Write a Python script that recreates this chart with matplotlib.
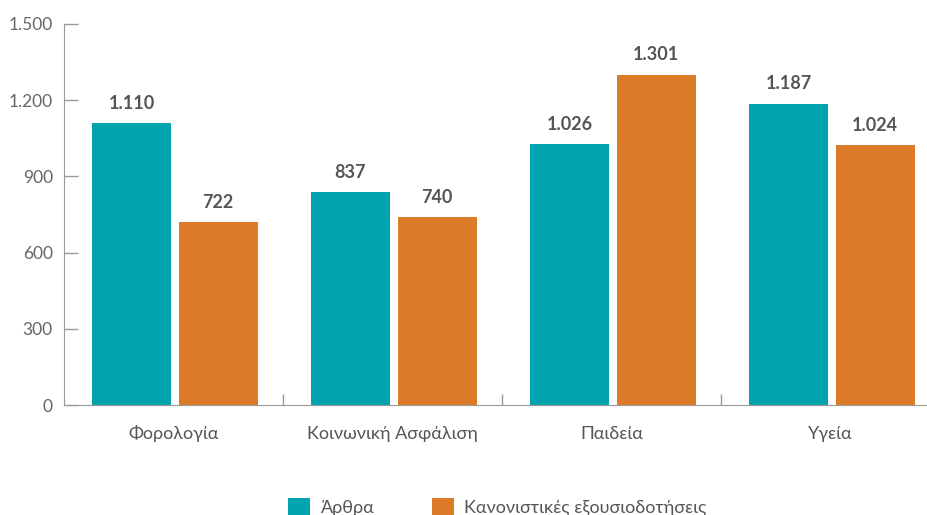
import matplotlib
matplotlib.use("Agg")
import matplotlib.pyplot as plt
from matplotlib.patches import Patch
import numpy as np

categories = ["Φορολογία", "Κοινωνική Ασφάλιση", "Παιδεία", "Υγεία"]
series_names = ["Άρθρα", "Κανονιστικές εξουσιοδοτήσεις"]
arthra = [1110, 837, 1026, 1187]
exousiodotiseis = [722, 740, 1301, 1024]
yticks = [0, 300, 600, 900, 1200, 1500]

TEAL = "#00A3AE"
ORANGE = "#DB7B28"
TXT = "#555555"
AX = "#9a9a9a"

plt.rcParams['font.family'] = ['Lato', 'DejaVu Sans']

W, H = 928, 515
fig = plt.figure(figsize=(W/100, H/100), dpi=100)
left = 64/W
bottom = 1 - 405/H
top = 1 - 24/H
ax = fig.add_axes([left, bottom, 876/W, top - bottom])

x = np.arange(len(categories))
bw = 0.36
off = 0.2
b1 = ax.bar(x - off + 0.008, arthra, bw, color=TEAL)
b2 = ax.bar(x + off + 0.004, exousiodotiseis, bw, color=ORANGE)

def fmt(v):
    return f"{v:,}".replace(",", ".")

for bars, vals in ((b1, arthra), (b2, exousiodotiseis)):
    for r, v in zip(bars, vals):
        ax.annotate(fmt(v), (r.get_x() + r.get_width()/2, v), xytext=(0, 8),
                    textcoords="offset points", ha="center", va="bottom",
                    fontsize=13, fontweight="bold", color=TXT)

ax.set_xlim(-0.5, 3.5)
ax.set_ylim(0, 1500)
ax.set_yticks(yticks)
ax.set_yticklabels([fmt(v) for v in yticks])
ax.set_xticks([0.5, 1.5, 2.5], minor=False)
ax.set_xticklabels([])
ax.tick_params(axis="x", direction="in", length=8, color=AX, width=1)
ax.tick_params(axis="y", direction="in", length=10, color=AX, width=1,
               labelsize=12.5, labelcolor="#666666", pad=8)
for s in ("top", "right"):
    ax.spines[s].set_visible(False)
for s in ("left", "bottom"):
    ax.spines[s].set_color(AX)

for i, c in enumerate(categories):
    ax.text(i, -0.075, c, transform=ax.get_xaxis_transform(), ha="center",
            va="center", fontsize=13, color=TXT)

handles = [Patch(facecolor=TEAL, edgecolor="none"), Patch(facecolor=ORANGE, edgecolor="none")]
fig.legend(handles, series_names, loc="center", bbox_to_anchor=(0.536, 1 - 507/H),
           ncol=2, frameon=False, fontsize=13, labelcolor=TXT,
           handlelength=1.2, handleheight=1.2, columnspacing=3.2, handletextpad=0.6)

fig.savefig("out.png", dpi=100)
